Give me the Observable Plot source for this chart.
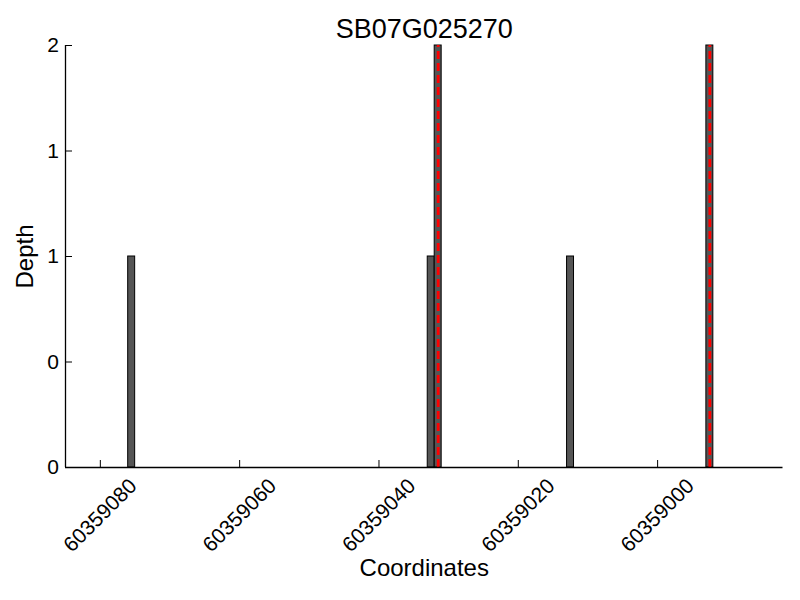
<!DOCTYPE html>
<html>
<head>
<meta charset="utf-8">
<script src="https://cdn.jsdelivr.net/npm/d3@7"></script>
<script src="https://cdn.jsdelivr.net/npm/@observablehq/plot@0.6"></script>
<style>
  html, body { margin: 0; padding: 0; background: #fff; }
  #chart svg { display: block; }
</style>
</head>
<body>
<div id="chart"></div>
<script>
const title = "SB07G025270";
const xLabel = "Coordinates";
const yLabel = "Depth";

// bar start coordinates (each bar covers one base) and their depths
const positions = [60359075, 60359032, 60359031, 60359012, 60358992];
const depths = [1, 1, 2, 1, 2];
// positions highlighted with a red dashed line
const marked = [60359031, 60358992];

const xDomain = [60359085, 60358982];
const yDomain = [0, 2];
const xTicks = [60359080, 60359060, 60359040, 60359020, 60359000];
const yTicks = [0, 0.5, 1, 1.5, 2];

const bars = positions.map((p, i) => ({start: p, end: p + 1, depth: depths[i]}));
const lines = marked.map(p => ({x: p + 0.5, depth: depths[positions.indexOf(p)]}));

const font = "'Liberation Sans', Arial, sans-serif";

const chart = Plot.plot({
  width: 800,
  height: 600,
  marginLeft: 65,
  marginRight: 17.5,
  marginTop: 45,
  marginBottom: 133,
  style: {fontFamily: font, background: "white", color: "black"},
  x: {domain: xDomain, axis: null},
  y: {domain: yDomain, axis: null},
  marks: [
    Plot.rectY(bars, {x1: "start", x2: "end", y: "depth", fill: "#555555", stroke: "black", strokeWidth: 1}),
    Plot.ruleX(lines, {x: "x", y1: 0, y2: "depth", stroke: "#ff0000", strokeWidth: 2.8, strokeDasharray: "8,4"}),
    Plot.axisX({ticks: xTicks, tickFormat: () => "", tickSize: -7, anchor: "bottom", label: null}),
    Plot.axisY({ticks: yTicks, tickFormat: () => "", tickSize: -7, anchor: "left", label: null}),
    Plot.text(xTicks, {x: d => d, y: yDomain[0], text: d => String(d), rotate: -45, textAnchor: "end", lineAnchor: "middle", dx: 33, dy: 15, fontSize: 21, fill: "black"}),
    Plot.text(yTicks, {y: d => d, frameAnchor: "left", text: d => String(Math.floor(d)), textAnchor: "end", lineAnchor: "middle", dx: -6.5, fontSize: 21, fill: "black"}),
    Plot.ruleY([yDomain[0]], {stroke: "black", strokeWidth: 1.3}),
    Plot.ruleX([xDomain[0]], {stroke: "black", strokeWidth: 1.3}),
    Plot.text([title], {frameAnchor: "top", lineAnchor: "middle", dy: -16, fontSize: 27, fill: "black"}),
    Plot.text([xLabel], {frameAnchor: "bottom", lineAnchor: "middle", dy: 101, fontSize: 24, fill: "black"}),
    Plot.text([yLabel], {frameAnchor: "left", textAnchor: "middle", lineAnchor: "middle", dx: -40, rotate: -90, fontSize: 24, fill: "black"})
  ]
});
document.getElementById("chart").appendChild(chart);
</script>
</body>
</html>
